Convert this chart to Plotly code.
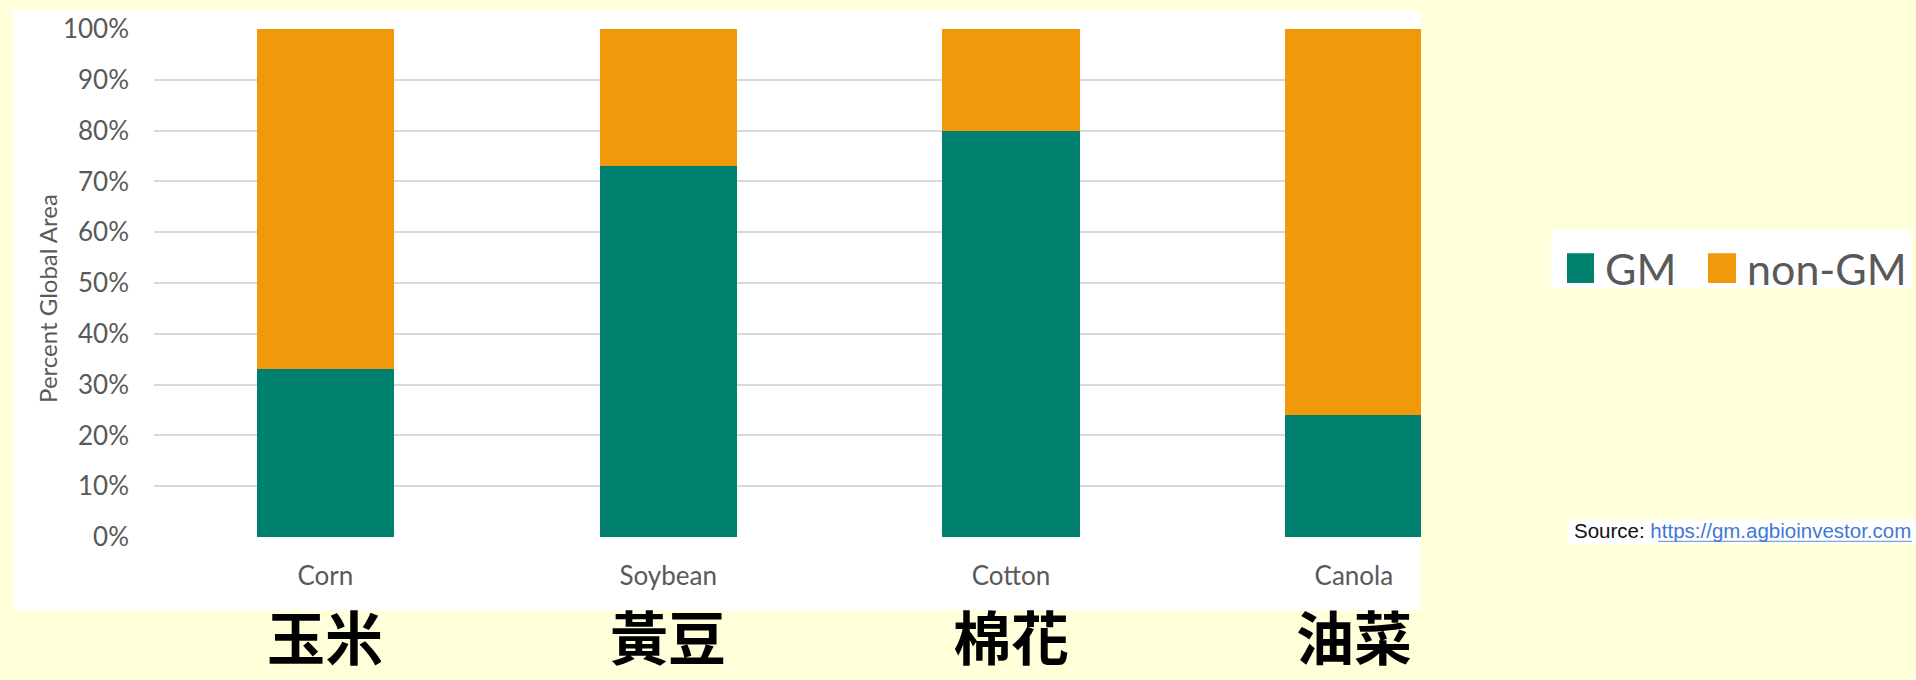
import plotly.graph_objects as go

# ---- data ----
categories = ["Corn", "Soybean", "Cotton", "Canola"]
chinese_labels = ["玉米", "黃豆", "棉花", "油菜"]
gm_pct = [33, 73, 80, 24]
non_gm_pct = [67, 27, 20, 76]
series_names = ["GM", "non-GM"]
y_ticks = [0, 10, 20, 30, 40, 50, 60, 70, 80, 90, 100]
y_tick_labels = ["0%", "10%", "20%", "30%", "40%", "50%", "60%", "70%", "80%", "90%", "100%"]
y_title = "Percent Global Area"
source_prefix = "Source: "
source_url = "https://gm.agbioinvestor.com"

# ---- styling ----
TEAL = "#00806E"
ORANGE = "#F0990A"
BG = "#FFFFDA"
GRID = "#D9D9D9"
TXT = "#595959"
W, H = 1916, 680
PL, PR, PT, PB = 154, 1421, 25, 537  # plot area in pixels


def px(x):
    return (x - PL) / (PR - PL)


def py(y):
    return (PB - y) / (PB - PT)


fig = go.Figure()
fig.add_trace(go.Bar(x=categories, y=gm_pct, name=series_names[0],
                     marker=dict(color=TEAL, line=dict(width=0)), width=0.4))
fig.add_trace(go.Bar(x=categories, y=non_gm_pct, name=series_names[1],
                     marker=dict(color=ORANGE, line=dict(width=0)), width=0.4))

shapes = [
    # white chart panel
    dict(type="rect", xref="paper", yref="paper", x0=px(13), x1=px(1421), y0=py(611), y1=py(6),
         fillcolor="white", line=dict(width=0), layer="below"),
    # white legend box
    dict(type="rect", xref="paper", yref="paper", x0=px(1551), x1=px(1911), y0=py(286), y1=py(227),
         fillcolor="white", line=dict(width=0), layer="below"),
    # legend squares
    dict(type="rect", xref="paper", yref="paper", x0=px(1567), x1=px(1594), y0=py(281), y1=py(251),
         fillcolor=TEAL, line=dict(width=0)),
    dict(type="rect", xref="paper", yref="paper", x0=px(1708), x1=px(1736), y0=py(281), y1=py(251),
         fillcolor=ORANGE, line=dict(width=0)),
    # white source box
    dict(type="rect", xref="paper", yref="paper", x0=px(1568), x1=px(1930), y0=py(544), y1=py(519),
         fillcolor="white", line=dict(width=0), layer="below"),
    # url underline
    dict(type="line", xref="paper", yref="paper", x0=px(1658), x1=px(1912), y0=py(541.5), y1=py(541.5),
         line=dict(color="#7FA3DE", width=1.2)),
]

annotations = [
    dict(text=y_title, xref="paper", yref="paper", x=px(48), y=py(297), showarrow=False,
         textangle=-90, xanchor="center", yanchor="middle",
         font=dict(family="Lato", size=24, color=TXT)),
    dict(text=series_names[0], xref="paper", yref="paper", x=px(1603), y=py(266), showarrow=False,
         xanchor="left", yanchor="middle", font=dict(family="Lato", size=43, color=TXT)),
    dict(text=series_names[1], xref="paper", yref="paper", x=px(1745), y=py(266), showarrow=False,
         xanchor="left", yanchor="middle", font=dict(family="Lato", size=43, color=TXT)),
    dict(text=source_prefix + "<span style='color:#3F78D2'>" + source_url + "</span>",
         xref="paper", yref="paper", x=px(1572), y=py(530), showarrow=False,
         xanchor="left", yanchor="middle", font=dict(family="Liberation Sans", size=20.5, color="#111111")),
]
for cat, zh in zip(categories, chinese_labels):
    annotations.append(dict(text=zh, xref="x", yref="paper", x=cat, y=py(680), showarrow=False,
                            xanchor="center", yanchor="bottom",
                            font=dict(family="Noto Sans CJK TC", size=58, color="black", weight=600)))

fig.update_layout(
    barmode="stack",
    width=W, height=H,
    margin=dict(l=PL, r=W - PR, t=PT, b=H - PB, pad=0),
    paper_bgcolor=BG,
    plot_bgcolor="white",
    showlegend=False,
    shapes=shapes,
    annotations=annotations,
    xaxis=dict(range=[-0.5, 3.196], showgrid=False, zeroline=False, showline=False, ticks="",
               tickfont=dict(family="Lato", size=26, color=TXT), ticklabelstandoff=21),
    yaxis=dict(range=[0, 100], tickvals=y_ticks, ticktext=y_tick_labels, showgrid=True, gridcolor=GRID,
               gridwidth=1.5, zeroline=False, showline=False, ticks="",
               tickfont=dict(family="Lato", size=26, color=TXT), ticklabelstandoff=24),
)

fig.write_html("out.html")
